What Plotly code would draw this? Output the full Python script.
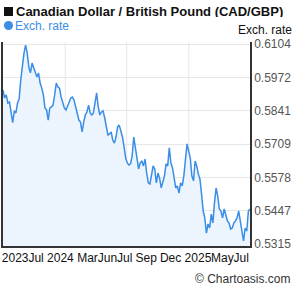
import pandas as pd
import plotly.graph_objects as go

# ---- data ----
start_date = "2023-07-28"
end_date = "2025-07-28"
rates = [
    0.5923, 0.5891, 0.5903, 0.5871, 0.5875, 0.5836, 0.5794, 0.5840, 0.5832, 0.5871,
    0.5887, 0.5962, 0.6021, 0.6068, 0.6100, 0.6068, 0.6013, 0.5990, 0.6029, 0.6013,
    0.5994, 0.5974, 0.5990, 0.5950, 0.5930, 0.5903, 0.5852, 0.5844, 0.5804, 0.5852,
    0.5856, 0.5863, 0.5903, 0.5950, 0.5934, 0.5930, 0.5895, 0.5871, 0.5852, 0.5844,
    0.5863, 0.5875, 0.5891, 0.5895, 0.5883, 0.5856, 0.5836, 0.5804, 0.5796, 0.5757,
    0.5796, 0.5824, 0.5836, 0.5863, 0.5832, 0.5824, 0.5832, 0.5883, 0.5911, 0.5856,
    0.5824, 0.5836, 0.5840, 0.5812, 0.5773, 0.5745, 0.5749, 0.5757, 0.5725, 0.5713,
    0.5737, 0.5777, 0.5784, 0.5765, 0.5737, 0.5698, 0.5654, 0.5635,
    0.5627, 0.5631, 0.5662, 0.5737, 0.5694, 0.5662, 0.5611, 0.5635, 0.5642, 0.5623,
    0.5650, 0.5595, 0.5556, 0.5552, 0.5595, 0.5623, 0.5611, 0.5556, 0.5595, 0.5575,
    0.5536, 0.5564, 0.5583, 0.5631, 0.5623, 0.5694, 0.5635, 0.5615, 0.5583, 0.5536,
    0.5544, 0.5516, 0.5556, 0.5544, 0.5583, 0.5654, 0.5710, 0.5682, 0.5654, 0.5583,
    0.5564, 0.5642, 0.5623, 0.5591, 0.5571, 0.5512, 0.5445, 0.5418, 0.5358, 0.5394,
    0.5378, 0.5433, 0.5398, 0.5477, 0.5536, 0.5504, 0.5453, 0.5445, 0.5418, 0.5453,
    0.5433, 0.5406, 0.5398, 0.5374, 0.5378, 0.5398, 0.5406, 0.5418, 0.5445, 0.5406,
    0.5354, 0.5327, 0.5378, 0.5366, 0.5445, 0.5453,
]
y_ticks = [0.5315, 0.5447, 0.5578, 0.5709, 0.5841, 0.5972, 0.6104]
y_range = [0.5307, 0.6112]
x_tick_dates = ["2023-09-02", "2023-11-03", "2024-01-14", "2024-04-03", "2024-06-01",
                "2024-07-22", "2024-09-24", "2024-12-05", "2025-02-24", "2025-05-07",
                "2025-07-02"]
x_tick_labels = ["2023", "Jul", "2024", "Mar", "Jun", "Jul", "Sep", "Dec", "2025", "May", "Jul"]
grid_dates = ["2024-01-28", "2024-07-28", "2025-01-28"]

title_text = "Canadian Dollar / British Pound (CAD/GBP)"
series_name = "Exch. rate"

dates = pd.date_range(start_date, end_date, periods=len(rates))

FONT = "Arial, 'Liberation Sans', sans-serif"
LINE = "#3a8ee6"
GRID = "#e6e6e6"

fig = go.Figure()
fig.add_trace(go.Scatter(
    x=dates, y=rates, mode="lines",
    line=dict(color=LINE, width=1.5),
    fill="tozeroy", fillcolor="#ecf5fe",
    showlegend=False, hoverinfo="skip",
))

for d in grid_dates:
    fig.add_shape(type="line", xref="x", yref="paper", x0=d, x1=d, y0=0, y1=1,
                  line=dict(color=GRID, width=1), layer="below")

# legend-style markers (square for title, circle for series)
fig.add_shape(type="rect", xref="paper", yref="paper", xsizemode="pixel", ysizemode="pixel",
              xanchor=0, yanchor=1, x0=1, x1=10, y0=26, y1=35,
              fillcolor="#111", line=dict(width=0))
fig.add_shape(type="circle", xref="paper", yref="paper", xsizemode="pixel", ysizemode="pixel",
              xanchor=0, yanchor=1, x0=1, x1=10, y0=12, y1=21,
              fillcolor=LINE, line=dict(width=0))

fig.update_layout(
    width=295, height=288,
    margin=dict(l=1, r=45, t=42, b=42),
    paper_bgcolor="white", plot_bgcolor="white",
    font=dict(family=FONT, size=12, color="#333"),
    showlegend=False,
)
fig.update_xaxes(
    range=[dates[0], dates[-1]],
    tickvals=x_tick_dates, ticktext=x_tick_labels, tickangle=0,
    showgrid=False, zeroline=False,
    showline=True, linecolor="#333", linewidth=1.5,
    ticks="", tickfont=dict(size=12, color="#111"),
)
fig.update_yaxes(
    side="right", range=y_range, tickvals=y_ticks,
    ticktext=[f"{v:.4f}" for v in y_ticks],
    showgrid=True, gridcolor=GRID, gridwidth=1, zeroline=False,
    showline=True, mirror=True, linecolor="#333", linewidth=1.5,
    ticks="", tickfont=dict(size=12, color="#555"),
)

fig.add_annotation(xref="paper", yref="paper", x=0.0, xshift=12, y=1.0, yshift=31,
                   text="<b>" + title_text + "</b>",
                   showarrow=False, xanchor="left", yanchor="middle", height=12,
                   borderpad=0, font=dict(family=FONT, size=13, color="#111"))
fig.add_annotation(xref="paper", yref="paper", x=0.0, xshift=11, y=1.0, yshift=16,
                   text=series_name,
                   showarrow=False, xanchor="left", yanchor="middle", height=12,
                   borderpad=0, font=dict(family=FONT, size=12, color=LINE))
fig.add_annotation(xref="paper", yref="paper", x=1.0, xshift=43, y=1.0, yshift=12,
                   text=series_name, showarrow=False, height=12, borderpad=0,
                   xanchor="right", yanchor="middle",
                   font=dict(family=FONT, size=12, color="#111"))
fig.add_annotation(xref="paper", yref="paper", x=1.0, xshift=43, y=0.0, yshift=-33,
                   text="\u00a9 Chartoasis.com", showarrow=False,
                   xanchor="right", yanchor="middle",
                   font=dict(family=FONT, size=12, color="#333"))

fig.write_html("out.html")
